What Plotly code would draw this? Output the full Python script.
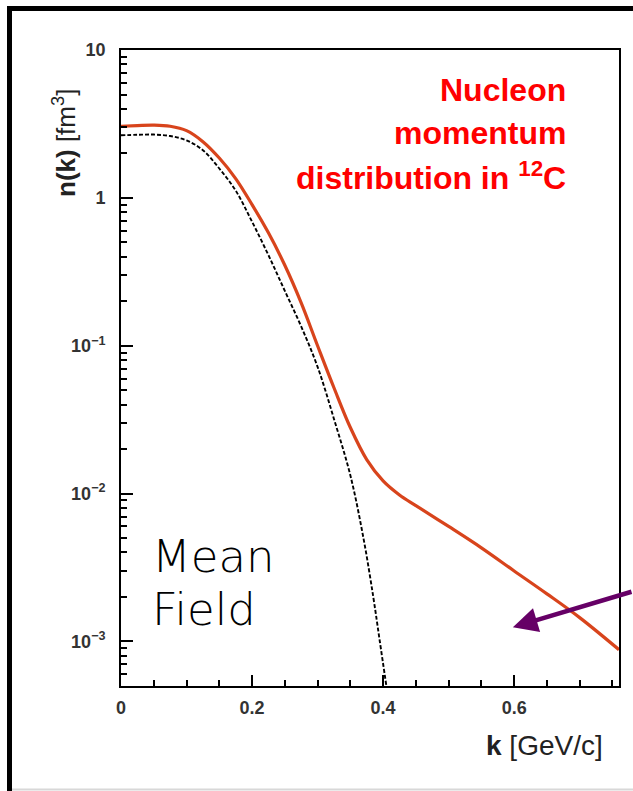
import plotly.graph_objects as go

# ---- data ----
k_total = [0.0, 0.025, 0.05, 0.075, 0.1, 0.125, 0.15, 0.175, 0.2, 0.225, 0.25,
           0.275, 0.3, 0.325, 0.35, 0.375, 0.4, 0.425, 0.45, 0.5, 0.55, 0.6,
           0.65, 0.7, 0.76]
n_total = [3.05, 3.08, 3.10, 3.05, 2.85, 2.40, 1.86, 1.35, 0.90, 0.58, 0.35,
           0.195, 0.10, 0.052, 0.028, 0.017, 0.0122, 0.0098, 0.0083, 0.0060,
           0.0043, 0.0030, 0.0021, 0.00145, 0.00088]

k_mf = [0.0, 0.025, 0.05, 0.075, 0.1, 0.125, 0.15, 0.175, 0.2, 0.225, 0.25,
        0.275, 0.3, 0.325, 0.35, 0.37, 0.385, 0.395, 0.405]
n_mf = [2.65, 2.67, 2.68, 2.62, 2.45, 2.10, 1.58, 1.12, 0.69, 0.41, 0.235,
        0.135, 0.072, 0.032, 0.0133, 0.005, 0.002, 0.001, 0.0005]

x_ticks = [0, 0.2, 0.4, 0.6]
x_ticktext = ["0", "0.2", "0.4", "0.6"]
y_tickvals = [1e-3, 1e-2, 1e-1, 1, 10]
y_ticktext = ["10<sup>−3</sup>", "10<sup>−2</sup>", "10<sup>−1</sup>", "1", "10"]

# ---- geometry ----
W, H = 633, 791
L, R, T, B = 121, 14, 50, 105
pw, ph = W - L - R, H - T - B

def px(xp):
    return (xp - L) / pw

def py(yp):
    return (H - B - yp) / ph

fig = go.Figure()
fig.add_trace(go.Scatter(x=k_mf, y=n_mf, mode="lines", line_shape="spline",
                         line=dict(color="black", width=1.9, dash="4px,2px"),
                         showlegend=False))
fig.add_trace(go.Scatter(x=k_total, y=n_total, mode="lines", line_shape="spline",
                         line=dict(color="#d8441c", width=3.2),
                         showlegend=False))

minor_y = [m * 10 ** e for e in range(-4, 1) for m in range(2, 10)]
tick_font = dict(family="Liberation Sans, Arial, sans-serif", size=18, color="#333",
                 weight="bold")

fig.update_layout(
    width=W, height=H,
    margin=dict(l=L, r=R, t=T, b=B),
    paper_bgcolor="white", plot_bgcolor="white",
    font=dict(family="Liberation Sans, Arial, sans-serif", color="#222"),
    xaxis=dict(range=[0, 0.76], tickvals=x_ticks, ticktext=x_ticktext,
               ticks="inside", ticklen=11, tickwidth=1.5, tickcolor="black",
               showline=True, linecolor="black", linewidth=1.8, mirror=True,
               showgrid=False, zeroline=False, tickfont=tick_font,
               ticklabelstandoff=4,
               minor=dict(dtick=0.05, tick0=0, ticks="inside", ticklen=6,
                          tickwidth=1.5, tickcolor="black", showgrid=False)),
    yaxis=dict(type="log", range=[-3.301, 1], tickvals=y_tickvals, ticktext=y_ticktext,
               ticks="inside", ticklen=12, tickwidth=1.5, tickcolor="black",
               showline=True, linecolor="black", linewidth=1.8, mirror=True,
               showgrid=False, zeroline=False, tickfont=tick_font,
               ticklabelstandoff=10,
               minor=dict(tickvals=minor_y, ticks="inside", ticklen=6,
                          tickwidth=1.5, tickcolor="black", showgrid=False)),
)

# outer frame
fig.add_shape(type="line", xref="paper", yref="paper",
              x0=px(9.5), x1=px(640), y0=py(8.5), y1=py(8.5),
              line=dict(color="black", width=5))
fig.add_shape(type="line", xref="paper", yref="paper",
              x0=px(9.5), x1=px(9.5), y0=py(6), y1=py(800),
              line=dict(color="black", width=5))
fig.add_shape(type="line", xref="paper", yref="paper",
              x0=px(12), x1=px(640), y0=py(789.5), y1=py(789.5),
              line=dict(color="#d8d8d8", width=2))

# axis titles
fig.add_annotation(xref="paper", yref="paper", x=px(64), y=py(143),
                   xanchor="center", yanchor="middle",
                   text="<b>n(k)</b> [fm<sup>3</sup>]", textangle=-90,
                   showarrow=False, font=dict(size=26, color="#222"))
fig.add_annotation(xref="paper", yref="paper", x=px(605), y=py(745),
                   xanchor="right", yanchor="middle", text="<b>k</b> [GeV/c]",
                   showarrow=False, font=dict(size=28, color="#222"))

# red label
red_font = dict(family="Liberation Sans, Arial, sans-serif",
                size=32, color="#ff0000", weight="bold")
for txt, yc in [("Nucleon", 90), ("momentum", 133), ("distribution in <sup>12</sup>C", 176)]:
    fig.add_annotation(xref="paper", yref="paper", x=px(568), y=py(yc),
                       xanchor="right", yanchor="middle", text=txt,
                       showarrow=False, font=red_font)

# Mean Field
mf_font = dict(family="DejaVu Sans, sans-serif", size=45, color="black", weight=200)
for txt, yc in [("Mean", 556), ("Field", 609)]:
    fig.add_annotation(xref="paper", yref="paper", x=px(150), y=py(yc),
                       xanchor="left", yanchor="middle", text=txt,
                       showarrow=False, font=mf_font)

# purple arrow
fig.add_annotation(x=0.598, y=-2.904, xref="x", yref="y", text="",
                   showarrow=True, ax=125, ay=-36, axref="pixel", ayref="pixel",
                   arrowcolor="#660066", arrowwidth=4.5, arrowhead=2, arrowsize=1.1,
                   standoff=0)

fig.write_html("out.html")
